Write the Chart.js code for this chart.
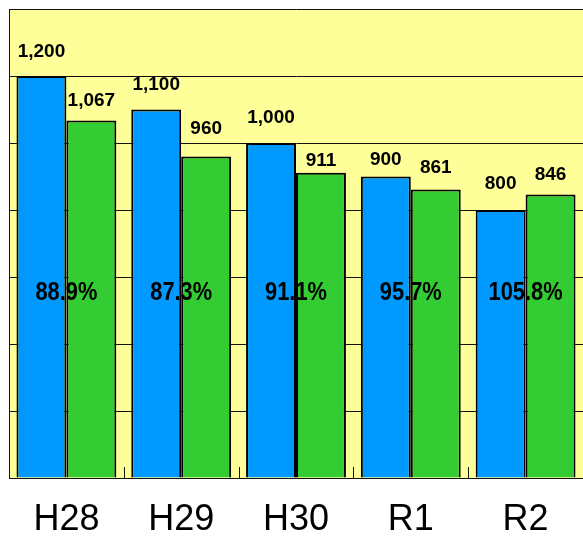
<!DOCTYPE html>
<html>
<head>
<meta charset="utf-8">
<script src="https://cdn.jsdelivr.net/npm/chart.js@4/dist/chart.umd.min.js"></script>
<style>
  html, body { margin: 0; padding: 0; background: #ffffff; }
  #wrap { width: 583px; height: 538px; }
</style>
</head>
<body>
<div id="wrap"><canvas id="c"></canvas></div>
<script>
// 年度ごとのデータ
const categories = ['H28', 'H29', 'H30', 'R1', 'R2'];
const blueValues = [1200, 1100, 1000, 900, 800];
const greenValues = [1067, 960, 911, 861, 846];
const ratioLabels = ['88.9%', '87.3%', '91.1%', '95.7%', '105.8%'];
const yTicks = [0, 200, 400, 600, 800, 1000, 1200, 1400];

const COLORS = {
  blue: '#0099ff',
  green: '#33cc33',
  plotBg: '#ffff99',
  line: '#111111'
};

// 数値ラベルの棒上端からの距離(px)。元の図では位置が少しずつ違う
const LABEL_GAP = [
  [24, 25, 25, 17, 26],
  [20, 28, 12, 22, 20]
];

// 描画エリアの背景（黄色）
const plotBackground = {
  id: 'plotBackground',
  beforeDraw(chart) {
    const { ctx, chartArea: a } = chart;
    ctx.save();
    ctx.fillStyle = COLORS.plotBg;
    ctx.fillRect(a.left, a.top, a.right - a.left, a.bottom - a.top);
    ctx.restore();
  }
};

// 棒の上の数値と、グループ中央の比率ラベル
const valueLabels = {
  id: 'valueLabels',
  afterDatasetsDraw(chart) {
    const { ctx, scales } = chart;
    ctx.save();
    ctx.fillStyle = '#000';
    ctx.textAlign = 'center';
    ctx.textBaseline = 'middle';

    // 区切りの小さな目盛り（内向き）
    ctx.strokeStyle = COLORS.line;
    ctx.lineWidth = 1;
    const xs = scales.x;
    for (let i = 1; i < categories.length; i++) {
      const bx = Math.round((xs.getPixelForValue(i - 1) + xs.getPixelForValue(i)) / 2) + 0.5;
      ctx.beginPath();
      ctx.moveTo(bx, chart.chartArea.bottom);
      ctx.lineTo(bx, chart.chartArea.bottom - 11);
      ctx.stroke();
    }

    ctx.font = "bold 19px 'Liberation Sans', Arial, sans-serif";
    chart.data.datasets.forEach((ds, di) => {
      chart.getDatasetMeta(di).data.forEach((bar, i) => {
        ctx.fillText(ds.data[i].toLocaleString('en-US'), bar.x, bar.y - LABEL_GAP[di][i]);
      });
    });

    // 比率は少し縦長の字形にする
    ctx.font = "bold 26px 'Liberation Sans', Arial, sans-serif";
    const yMid = scales.y.getPixelForValue(552);
    ratioLabels.forEach((t, i) => {
      ctx.save();
      ctx.translate(xs.getPixelForValue(i), yMid);
      ctx.scale(0.84, 1);
      ctx.fillText(t, 0, 0);
      ctx.restore();
    });
    ctx.restore();
  }
};

new Chart(document.getElementById('c'), {
  type: 'bar',
  data: {
    labels: categories,
    datasets: [
      {
        data: blueValues,
        backgroundColor: COLORS.blue,
        borderColor: '#000',
        borderWidth: 2,
        borderSkipped: 'bottom'
      },
      {
        data: greenValues,
        backgroundColor: COLORS.green,
        borderColor: '#000',
        borderWidth: 2,
        borderSkipped: 'bottom'
      }
    ]
  },
  options: {
    responsive: true,
    maintainAspectRatio: false,
    animation: false,
    datasets: {
      bar: { categoryPercentage: 0.87, barPercentage: 1.0 }
    },
    layout: { padding: { left: 9, top: 9, right: 0, bottom: 0 } },
    plugins: {
      legend: { display: false },
      tooltip: { enabled: false }
    },
    scales: {
      x: {
        grid: { display: false, drawTicks: false },
        border: { display: true, color: COLORS.line, width: 1 },
        afterFit(scale) {
          scale.height = 60;
        },
        ticks: {
          color: '#000',
          padding: 24,
          maxRotation: 0,
          font: { family: "'Liberation Sans', Arial, sans-serif", size: 36, lineHeight: 1.0 }
        }
      },
      y: {
        min: 0,
        max: 1400,
        afterBuildTicks(scale) {
          scale.ticks = yTicks.map(v => ({ value: v }));
        },
        grid: { color: COLORS.line, lineWidth: 1, drawTicks: false },
        border: { display: true, color: COLORS.line, width: 1 },
        ticks: { display: false }
      }
    }
  },
  plugins: [plotBackground, valueLabels]
});
</script>
</body>
</html>
